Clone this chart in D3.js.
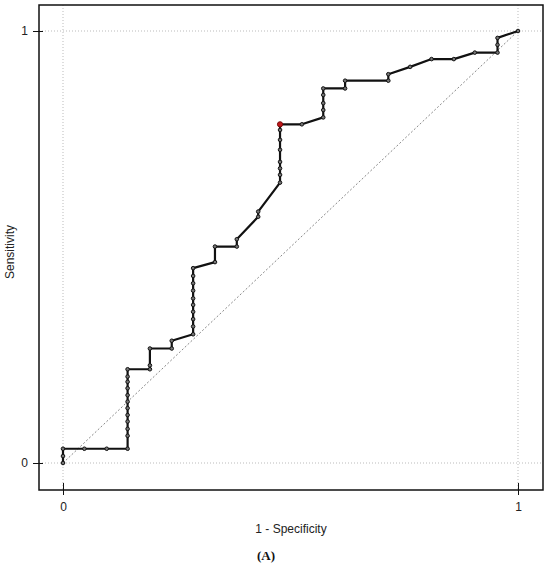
<!DOCTYPE html>
<html>
<head>
<meta charset="utf-8">
<script src="https://cdn.jsdelivr.net/npm/d3@7"></script>
<style>
  html, body { margin: 0; padding: 0; background: #fff; }
  svg { display: block; }
</style>
</head>
<body>
<svg id="chart" width="550" height="566"></svg>
<script>
// ROC curve points: 1 - Specificity (fpr) and Sensitivity (tpr)
const fpr = [0, 0, 0, 0.047, 0.096, 0.142, 0.142, 0.142, 0.142, 0.142, 0.142, 0.142, 0.142, 0.142, 0.142, 0.142, 0.142,
  0.191, 0.191, 0.191, 0.239, 0.239, 0.286, 0.286, 0.286, 0.286, 0.286, 0.286, 0.286, 0.286, 0.286, 0.286,
  0.334, 0.334, 0.382, 0.382, 0.429, 0.429, 0.477, 0.477, 0.477, 0.477, 0.477, 0.477, 0.477, 0.477,
  0.525, 0.572, 0.572, 0.572, 0.572, 0.572, 0.620, 0.620, 0.715, 0.715, 0.763, 0.810, 0.859, 0.905, 0.955, 0.955, 0.955, 1];
const tpr = [0, 0.016, 0.033, 0.033, 0.033, 0.033, 0.063, 0.079, 0.096, 0.111, 0.127, 0.142, 0.157, 0.173, 0.188, 0.200, 0.217,
  0.217, 0.226, 0.265, 0.265, 0.283, 0.298, 0.316, 0.333, 0.350, 0.366, 0.381, 0.399, 0.416, 0.433, 0.451,
  0.465, 0.501, 0.501, 0.518, 0.570, 0.582, 0.649, 0.667, 0.682, 0.697, 0.725, 0.748, 0.771, 0.784,
  0.784, 0.800, 0.817, 0.833, 0.852, 0.867, 0.867, 0.885, 0.885, 0.900, 0.917, 0.935, 0.935, 0.950, 0.950, 0.968, 0.984, 1];
const optimalIndex = 45; // highlighted cutoff point
const xTicks = [0, 1];
const yTicks = [0, 1];
const xLabel = "1 - Specificity";
const yLabel = "Sensitivity";
const caption = "(A)";

const points = fpr.map((f, i) => ({ x: f, y: tpr[i] }));

const svg = d3.select("#chart");
const frame = { left: 39, top: 5, right: 543, bottom: 490 };

const x = d3.scaleLinear().domain([0, 1]).range([63, 518]);
const y = d3.scaleLinear().domain([0, 1]).range([463, 31]);

// gridlines
const grid = svg.append("g");
xTicks.forEach(t => grid.append("line")
  .attr("x1", x(t)).attr("x2", x(t)).attr("y1", frame.top).attr("y2", frame.bottom)
  .attr("stroke", "#bbb").attr("stroke-width", 1).attr("stroke-dasharray", "1,2"));
yTicks.forEach(t => grid.append("line")
  .attr("y1", y(t)).attr("y2", y(t)).attr("x1", frame.left).attr("x2", frame.right)
  .attr("stroke", "#bbb").attr("stroke-width", 1).attr("stroke-dasharray", "1,2"));

// diagonal reference
svg.append("line")
  .attr("x1", x(0)).attr("y1", y(0)).attr("x2", x(1)).attr("y2", y(1))
  .attr("stroke", "#888").attr("stroke-width", 1).attr("stroke-dasharray", "2,2");

// frame
svg.append("rect")
  .attr("x", frame.left).attr("y", frame.top)
  .attr("width", frame.right - frame.left).attr("height", frame.bottom - frame.top)
  .attr("fill", "none").attr("stroke", "#111").attr("stroke-width", 1.5);

// axes
const xAxis = svg.append("g")
  .attr("transform", `translate(0,${frame.bottom})`)
  .call(d3.axisBottom(x).tickValues(xTicks).tickFormat(d3.format("d")).tickSize(5).tickPadding(7));
xAxis.select(".domain").remove();
xAxis.selectAll(".tick line").attr("y1", -7).attr("stroke", "#111");
xAxis.selectAll(".tick text").attr("font-family", "Liberation Sans, Arial, sans-serif").attr("font-size", 12).attr("fill", "#222");

const yAxis = svg.append("g")
  .attr("transform", `translate(${frame.left},0)`)
  .call(d3.axisLeft(y).tickValues(yTicks).tickFormat(d3.format("d")).tickSize(6).tickPadding(5));
yAxis.select(".domain").remove();
yAxis.selectAll(".tick line").attr("x1", 4).attr("stroke", "#111");
yAxis.selectAll(".tick text").attr("font-family", "Liberation Sans, Arial, sans-serif").attr("font-size", 12).attr("fill", "#222");

// ROC line
const line = d3.line().x(d => x(d.x)).y(d => y(d.y));
svg.append("path")
  .datum(points)
  .attr("d", line)
  .attr("fill", "none")
  .attr("stroke", "#111")
  .attr("stroke-width", 2.2)
  .attr("stroke-linejoin", "round");

// markers
svg.append("g").selectAll("circle")
  .data(points)
  .join("circle")
  .attr("cx", d => x(d.x))
  .attr("cy", d => y(d.y))
  .attr("r", (d, i) => i === optimalIndex ? 2.6 : 1.8)
  .attr("fill", (d, i) => i === optimalIndex ? "#c0181b" : "#777")
  .attr("stroke", (d, i) => i === optimalIndex ? "#7a0a0a" : "#111")
  .attr("stroke-width", 1);

// labels
svg.append("text")
  .attr("x", 291).attr("y", 533)
  .attr("text-anchor", "middle")
  .attr("font-family", "Liberation Sans, Arial, sans-serif")
  .attr("font-size", 12).attr("fill", "#222")
  .text(xLabel);

svg.append("text")
  .attr("transform", "translate(14,252) rotate(-90)")
  .attr("text-anchor", "middle")
  .attr("font-family", "Liberation Sans, Arial, sans-serif")
  .attr("font-size", 12).attr("fill", "#222")
  .text(yLabel);

svg.append("text")
  .attr("x", 266).attr("y", 560)
  .attr("text-anchor", "middle")
  .attr("font-family", "Liberation Serif, Times New Roman, serif")
  .attr("font-weight", "bold")
  .attr("font-size", 13).attr("fill", "#111")
  .text(caption);
</script>
</body>
</html>
